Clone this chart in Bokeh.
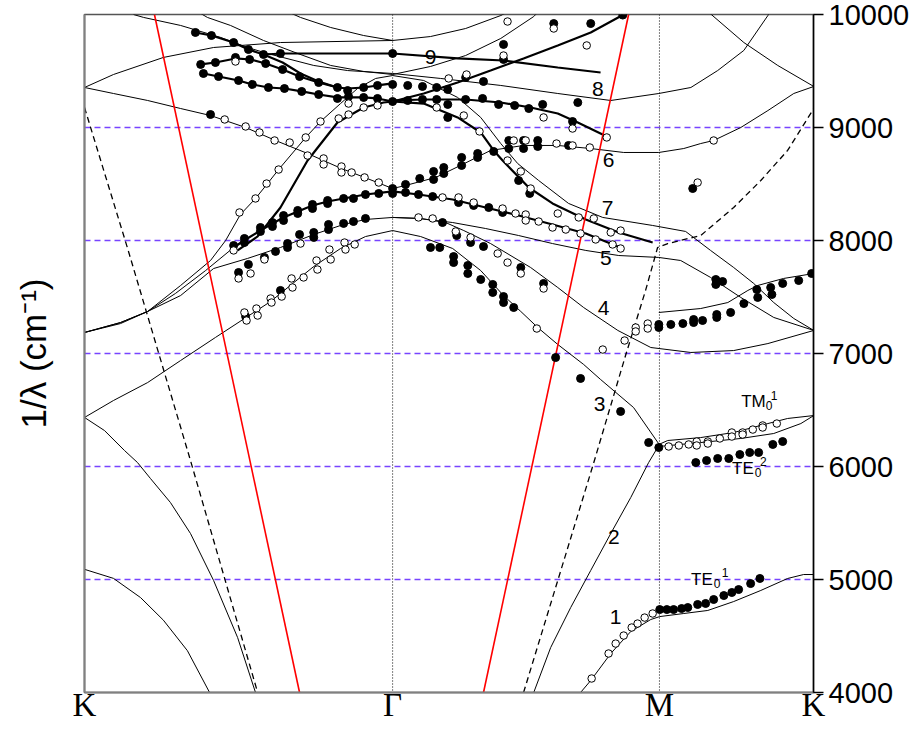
import math
from bokeh.plotting import figure
from bokeh.models import LinearAxis, FixedTicker, Span, Range1d
from bokeh.core.properties import value
from bokeh.embed import file_html
from bokeh.resources import INLINE

# ---------------- k-path (|Gamma K| = 1) ----------------
K_GAMMA = 1.0
GAMMA_M = math.sqrt(3) / 2
M_K = 0.5
sym_pos = [0.0, K_GAMMA, K_GAMMA + GAMMA_M, K_GAMMA + GAMMA_M + M_K]
sym_labels = ["K", "Γ", "M", "K"]

y_ticks = [4000, 5000, 6000, 7000, 8000, 9000, 10000]
guide_levels = [5000, 6000, 7000, 8000, 9000]

# ---------------- calculated bands (thin lines) ----------------
band_a_x = [0, 0.094, 0.182, 0.256, 0.334, 0.406]
band_a_y = [5090, 5010, 4840, 4640, 4370, 4000]

band_b_x = [0, 0.065, 0.130, 0.172, 0.214, 0.279, 0.344, 0.419, 0.497, 0.555]
band_b_y = [6434, 6318, 6141, 6035, 5894, 5681, 5407, 4991, 4486, 4000]

band_c_x = [0, 0.094, 0.205, 0.312, 0.425, 0.529, 0.604, 0.672, 0.744, 0.831, 0.912, 1.0,
            1.091, 1.195, 1.286, 1.360, 1.416, 1.471, 1.536, 1.620, 1.675, 1.782, 1.864]
band_c_y = [6434, 6584, 6743, 6938, 7142, 7327, 7460, 7611, 7770, 7929, 8035, 8088,
            8035, 7929, 7734, 7513, 7372, 7230, 7080, 6903, 6770, 6522, 6200]

band_d_x = [1.0, 1.091, 1.172, 1.231, 1.318, 1.448, 1.536, 1.620, 1.731, 1.838, 1.968, 2.107, 2.218, 2.367]
band_d_y = [8204, 8195, 8159, 8088, 7973, 7761, 7584, 7407, 7204, 7053, 7009, 7026, 7088, 7204]

band_e_x = [1.0, 1.084, 1.195, 1.302, 1.409, 1.519, 1.627, 1.734, 1.864, 1.935, 2.032, 2.130, 2.237, 2.367]
band_e_y = [8204, 8195, 8159, 8106, 8044, 7973, 7912, 7867, 7850, 7823, 7673, 7496, 7319, 7204]

band_f_x = [0, 0.094, 0.205, 0.312, 0.409, 0.523, 0.620, 0.724, 0.834, 0.909, 1.0, 1.042, 1.140,
            1.227, 1.318, 1.425, 1.536, 1.643, 1.750, 1.864, 1.945, 2.0, 2.042, 2.130, 2.218, 2.302, 2.367]
band_f_y = [9354, 9301, 9239, 9168, 9106, 9000, 8885, 8770, 8637, 8558, 8460, 8487, 8558,
            8673, 8797, 8841, 8841, 8814, 8779, 8779, 8814, 8858, 8885, 9000, 9150, 9301, 9363]

band_g_x = [0, 0.094, 0.256, 0.419, 0.636, 1.0, 1.123, 1.237, 1.351, 1.383]
band_g_y = [9354, 9469, 9620, 9708, 9752, 9770, 9805, 9876, 9991, 10036]

band_h_x = [0.636, 0.701, 0.799, 0.906, 1.0]
band_h_y = [10053, 9974, 9885, 9814, 9770]

band_i_x = [0.159, 0.192, 0.312, 0.442, 0.529, 0.594, 0.744, 0.854, 1.0, 1.156, 1.351, 1.536,
            1.708, 1.864, 1.968, 2.055, 2.140, 2.218, 2.227]
band_i_y = [10000, 9974, 9903, 9797, 9708, 9655, 9549, 9504, 9478, 9434, 9372, 9301,
            9239, 9301, 9354, 9504, 9682, 9991, 10036]

band_j_x = [0.377, 0.399, 0.474, 0.581, 0.692, 0.799, 0.906, 1.0, 1.123, 1.237, 1.351, 1.458, 1.471]
band_j_y = [10009, 9974, 9903, 9770, 9655, 9549, 9496, 9469, 9540, 9637, 9788, 9982, 10018]

band_k_x = [0, 0.117, 0.205, 0.312, 0.409, 0.458, 0.506, 0.555, 0.594, 0.630, 0.718, 0.766, 0.831,
            0.886, 0.945, 1.0, 1.101, 1.211, 1.286, 1.351, 1.406, 1.474, 1.571, 1.682, 1.844,
            1.951, 2.032, 2.107, 2.172, 2.237, 2.302, 2.367]
band_k_y = [7186, 7274, 7372, 7602, 7823, 8000, 8230, 8372, 8504, 8628, 8912, 9053, 9212,
            9345, 9434, 9460, 9416, 9266, 9089, 8858, 8681, 8531, 8328, 8204, 8133,
            8080, 7912, 7761, 7620, 7451, 7310, 7204]

band_l_x = [0, 0.117, 0.205, 0.295, 0.393, 0.484]
band_l_y = [7186, 7274, 7372, 7531, 7734, 7938]

band_m_x = [0, 0.117, 0.205, 0.312, 0.419, 0.529, 0.636, 0.744, 0.841, 0.912, 1.0]
band_m_y = [7186, 7265, 7372, 7513, 7752, 7841, 7938, 8053, 8142, 8186, 8204]

band_n_x = [1.864, 2.0, 2.088, 2.153, 2.185, 2.269, 2.367]
band_n_y = [7363, 7398, 7451, 7558, 7602, 7664, 7708]

band_o_x = [2.019, 2.140, 2.250, 2.367]
band_o_y = [10036, 9752, 9549, 9363]

band_p_x = [1.458, 1.513, 1.578, 1.643, 1.708, 1.773, 1.831, 1.864]
band_p_y = [4000, 4398, 4752, 5080, 5407, 5726, 6035, 6186]

band_q_x = [1.610, 1.643, 1.708, 1.773, 1.838, 1.867, 1.945, 2.023, 2.107, 2.195, 2.282, 2.334, 2.367]
band_q_y = [4000, 4106, 4345, 4540, 4646, 4672, 4699, 4726, 4805, 4903, 5009, 5044, 5044]

band_r_x = [1.864, 1.893, 2.0, 2.107, 2.218, 2.282, 2.367]
band_r_y = [6195, 6230, 6256, 6301, 6380, 6425, 6451]

band_s_x = [1.864, 2.0, 2.130, 2.237, 2.325, 2.367]
band_s_y = [6177, 6212, 6248, 6292, 6380, 6451]

# ---------------- fitted bands (thick lines) ----------------
fit_5_x = [0.484, 0.523, 0.571, 0.610, 0.646, 0.692, 0.740, 0.789, 0.841, 0.912, 1.0,
           1.084, 1.195, 1.302, 1.409, 1.519, 1.627, 1.747]
fit_5_y = [7938, 8009, 8088, 8151, 8204, 8257, 8310, 8345, 8372, 8407, 8434,
           8407, 8363, 8292, 8221, 8142, 8062, 7929]

fit_7_x = [0.497, 0.562, 0.636, 0.724, 0.821, 0.906, 0.971, 1.0, 1.101, 1.211, 1.286, 1.328,
           1.357, 1.442, 1.519, 1.627, 1.734, 1.844]
fit_7_y = [7912, 8036, 8292, 8708, 9044, 9177, 9221, 9230, 9212, 9089, 8956, 8797,
           8708, 8469, 8328, 8186, 8071, 7982]

fit_a_x = [0.360, 0.412, 0.484, 0.532, 0.581, 0.643, 0.701, 0.760, 0.821]
fit_a_y = [9841, 9814, 9752, 9690, 9646, 9575, 9478, 9407, 9354]

fit_8_x = [0.377, 0.425, 0.490, 0.539, 0.588, 0.643, 0.698, 0.760, 0.821, 0.854, 0.906, 0.951, 1.0]
fit_8_y = [9558, 9575, 9611, 9602, 9566, 9513, 9451, 9398, 9354, 9345, 9354, 9372, 9390]

fit_b_x = [0.386, 0.435, 0.500, 0.545, 0.597, 0.649, 0.705, 0.760, 0.821, 0.857, 0.906, 0.951,
           1.0, 1.101, 1.211, 1.318, 1.425, 1.536, 1.643, 1.747]
fit_b_y = [9478, 9451, 9416, 9381, 9354, 9345, 9319, 9292, 9266, 9266, 9266, 9257,
           9230, 9301, 9398, 9504, 9611, 9726, 9841, 9995]

fit_6_x = [1.0, 1.101, 1.237, 1.351, 1.448, 1.536, 1.601, 1.695]
fit_6_y = [9239, 9248, 9248, 9221, 9177, 9124, 9044, 8920]

fit_9_x = [0.581, 0.643, 0.766, 1.0, 1.211, 1.360, 1.536, 1.675]
fit_9_y = [9646, 9655, 9655, 9655, 9611, 9593, 9531, 9487]

# ---------------- light lines ----------------
light_l_x = [0, 0.140, 0.344, 0.562]
light_l_y = [9177, 7929, 6053, 4000]
light_r_x = [1.425, 1.653, 1.756, 1.821, 1.860, 1.893, 2.0, 2.107, 2.195, 2.282, 2.367]
light_r_y = [4000, 6035, 6982, 7558, 7938, 7973, 8044, 8292, 8531, 8797, 9168]

red_l_x = [0.227, 0.698]
red_l_y = [10000, 4000]
red_r_x = [1.295, 1.766]
red_r_y = [4000, 10000]

# ---------------- measured points ----------------
filled_gk = [
    (0.360, 9841), (0.412, 9814), (0.484, 9752), (0.532, 9690), (0.581, 9646), (0.636, 9655),
    (0.377, 9558), (0.425, 9575), (0.490, 9620), (0.536, 9602), (0.588, 9566), (0.643, 9513),
    (0.698, 9451), (0.760, 9398), (0.821, 9354), (0.854, 9327), (0.906, 9354), (0.951, 9372), (1.0, 9381),
    (0.386, 9478), (0.435, 9451), (0.500, 9416), (0.545, 9381), (0.597, 9354), (0.649, 9345),
    (0.705, 9319), (0.760, 9292), (0.821, 9257), (0.857, 9274), (0.906, 9266), (0.951, 9257), (1.0, 9230),
    (1.0, 9655), (0.409, 9115), (1.0, 8460), (1.0, 8416),
    (0.484, 7956), (0.519, 8018), (0.519, 7982), (0.571, 8115), (0.571, 8080), (0.610, 8159),
    (0.610, 8124), (0.646, 8221), (0.646, 8177), (0.692, 8266), (0.692, 8239), (0.740, 8319),
    (0.740, 8283), (0.789, 8354), (0.789, 8327), (0.841, 8372), (0.873, 8372), (0.912, 8407), (0.955, 8416),
    (0.500, 7717), (0.532, 7788), (0.584, 7850), (0.620, 7903), (0.659, 7973), (0.659, 7938),
    (0.698, 8053), (0.744, 8071), (0.744, 8027), (0.792, 8142), (0.792, 8097), (0.841, 8151),
    (0.873, 8168), (0.912, 8195),
    (0.523, 7327), (0.636, 7558),
]
filled_gm = [
    (1.042, 8425), (1.084, 8407), (1.130, 8389), (1.214, 8336), (1.263, 8310), (1.312, 8292), (1.357, 8248),
    (1.162, 8159), (1.208, 8044), (1.253, 7982), (1.295, 7947), (1.416, 7761), (1.490, 7620),
    (1.123, 7938), (1.153, 7938), (1.198, 7858), (1.198, 7805), (1.244, 7779), (1.244, 7708),
    (1.286, 7655), (1.325, 7611), (1.325, 7540), (1.360, 7504), (1.360, 7451), (1.393, 7407),
    (1.529, 6964), (1.610, 6779), (1.740, 6487), (1.831, 6212), (1.864, 6168),
    (1.042, 8496), (1.088, 8549), (1.133, 8611), (1.133, 8540), (1.166, 8646), (1.166, 8593),
    (1.224, 8735), (1.224, 8664), (1.276, 8770), (1.276, 8735), (1.328, 8788), (1.377, 8885),
    (1.377, 8814), (1.425, 8885), (1.425, 8814), (1.471, 8885), (1.471, 8832), (1.571, 8841),
    (1.179, 9089), (1.409, 8531), (1.445, 8416),
    (1.049, 9239), (1.097, 9248), (1.143, 9248), (1.179, 9204), (1.237, 9248), (1.292, 9257),
    (1.344, 9204), (1.396, 9195), (1.442, 9168), (1.487, 9204), (1.584, 9053), (1.601, 9221),
    (1.049, 9372), (1.097, 9363), (1.143, 9354), (1.179, 9336),
    (1.237, 9443), (1.295, 9407), (1.360, 9735), (1.360, 9602), (1.523, 9920), (1.643, 9920), (1.747, 9995),
]
filled_mk = [
    (1.864, 7257), (1.864, 7230), (1.903, 7257), (1.942, 7265), (1.977, 7301), (1.977, 7274),
    (2.006, 7292), (2.052, 7345), (2.052, 7319), (2.097, 7363), (2.140, 7442),
    (1.974, 8460),
    (2.049, 7655), (2.049, 7611), (2.071, 7637), (2.182, 7566), (2.185, 7496), (2.227, 7584),
    (2.231, 7522), (2.266, 7620), (2.318, 7646), (2.360, 7708),
    (1.984, 6035), (2.019, 6053), (2.055, 6071), (2.091, 6071), (2.127, 6106), (2.159, 6124),
    (2.188, 6124), (2.234, 6195), (2.266, 6221),
    (1.867, 4734), (1.890, 4734), (1.912, 4734), (1.938, 4743), (1.958, 4752), (1.990, 4779),
    (2.016, 4788), (2.042, 4823), (2.075, 4858), (2.101, 4885), (2.123, 4911), (2.162, 4964), (2.192, 5009),
]
open_gk = [
    (0.490, 9584),
    (0.455, 9071), (0.523, 9009), (0.568, 8956), (0.617, 8885), (0.666, 8867), (0.724, 8752),
    (0.776, 8726), (0.776, 8673), (0.834, 8655), (0.834, 8602), (0.867, 8602), (0.909, 8558), (0.955, 8513),
    (0.503, 8248), (0.555, 8372), (0.591, 8504), (0.630, 8628), (0.718, 8912), (0.766, 9053),
    (0.825, 9080), (0.857, 9115), (0.857, 9212), (0.906, 9177), (0.951, 9195),
    (0.484, 7912),
    (0.500, 7664), (0.539, 7708), (0.584, 7832), (0.701, 7973),
    (0.519, 7363), (0.526, 7292), (0.558, 7398), (0.562, 7336), (0.604, 7487), (0.607, 7451),
    (0.640, 7504), (0.672, 7664), (0.675, 7584), (0.711, 7673), (0.753, 7823), (0.756, 7743),
    (0.795, 7920), (0.799, 7832), (0.844, 7982), (0.847, 7920), (0.877, 7965),
]
open_gm = [
    (1.162, 8381), (1.214, 8381), (1.263, 8336), (1.357, 8283), (1.399, 8239), (1.432, 8230),
    (1.432, 8177), (1.474, 8168), (1.519, 8115), (1.562, 8097), (1.610, 8062), (1.659, 8009),
    (1.714, 7965), (1.740, 7929),
    (1.084, 8204), (1.130, 8195), (1.205, 8080), (1.253, 8027), (1.341, 7885), (1.373, 7805),
    (1.416, 7708), (1.490, 7575),
    (1.468, 7221), (1.682, 7035),
    (1.753, 7115), (1.789, 7230), (1.789, 7195), (1.828, 7265), (1.828, 7221),
    (1.536, 8239), (1.604, 8204), (1.653, 8195), (1.708, 8071), (1.740, 8088),
    (1.393, 8885), (1.432, 8885), (1.532, 8858), (1.584, 8841), (1.640, 8823),
    (1.143, 9177), (1.231, 9106), (1.282, 8965), (1.373, 8708), (1.416, 8611), (1.448, 8460),
    (1.490, 9089), (1.584, 8991), (1.695, 8912),
    (1.240, 9469), (1.182, 9434), (1.360, 9637), (1.373, 9938), (1.523, 9876), (1.630, 9726),
    (1.646, 4124), (1.701, 4345), (1.724, 4433), (1.750, 4504), (1.776, 4575), (1.795, 4610),
    (1.818, 4663), (1.844, 4699),
]
open_mk = [
    (1.990, 8513), (2.042, 8885),
    (1.896, 6177), (1.929, 6186), (1.961, 6195), (1.987, 6221), (1.987, 6186), (2.023, 6221),
    (2.023, 6203), (2.062, 6248), (2.101, 6301), (2.101, 6265), (2.136, 6301), (2.136, 6283),
    (2.169, 6327), (2.201, 6363), (2.201, 6345), (2.247, 6380),
]

# ---------------- labels ----------------
band_label_text = ["1", "2", "3", "4", "5", "6", "7", "8", "9"]
band_label_x = [1.724, 1.718, 1.672, 1.685, 1.692, 1.701, 1.698, 1.666, 1.123]
band_label_y = [4664, 5380, 6549, 7407, 7841, 8708, 8292, 9345, 9620]

mode_text = ["TM", "TE", "TE"]
mode_x = [2.211, 2.172, 2.039]
mode_y = [6575, 5982, 5000]
mode_sub_text = ["0", "0", "0"]
mode_sub_x = [2.211, 2.175, 2.042]
mode_sub_y = [6540, 5947, 4965]
mode_sup_text = ["1", "2", "1"]
mode_sup_x = [2.227, 2.192, 2.068]
mode_sup_y = [6628, 6044, 5062]

# ---------------- figure ----------------
p = figure(width=915, height=729,
           x_range=Range1d(sym_pos[0], sym_pos[-1]), y_range=Range1d(4000, 10000),
           output_backend="svg", toolbar_location=None, y_axis_location="right",
           min_border_left=84, min_border_right=102, min_border_top=14, min_border_bottom=37)
p.grid.visible = False
p.outline_line_color = "#555555"
p.outline_line_width = 1.5
p.background_fill_color = "white"
p.border_fill_color = "white"

# right axis (numbers)
yax = p.yaxis[0]
yax.ticker = FixedTicker(ticks=y_ticks)
yax.major_tick_out = 10
yax.major_tick_in = 0
yax.minor_tick_line_color = None
yax.major_tick_line_width = 1.5
yax.axis_line_width = 1.5
yax.axis_line_color = "black"
yax.major_label_text_font = "Liberation Sans"
yax.major_label_text_font_size = "29px"
yax.major_label_text_color = "black"
yax.major_label_standoff = 5

# left axis (title only)
lax = LinearAxis(ticker=FixedTicker(ticks=[]), axis_label="1/λ (cm⁻¹)",
                 axis_label_text_font="Liberation Sans", axis_label_text_font_size="35px",
                 axis_label_text_font_style="normal", axis_label_text_color="black",
                 axis_label_standoff=32, axis_line_color="#808080", axis_line_width=2,
                 major_tick_line_color=None, minor_tick_line_color=None)
p.add_layout(lax, "left")

# bottom axis (symmetry points)
xax = p.xaxis[0]
xax.ticker = FixedTicker(ticks=sym_pos)
xax.major_label_overrides = {pos: lab for pos, lab in zip(sym_pos, sym_labels)}
xax.major_tick_line_color = None
xax.minor_tick_line_color = None
xax.major_tick_out = 0
xax.major_tick_in = 0
xax.axis_line_color = "#808080"
xax.axis_line_width = 2
xax.major_label_text_font = "Liberation Serif"
xax.major_label_text_font_size = "33px"
xax.major_label_text_color = "black"
xax.major_label_standoff = -6

# guide lines
for lev in guide_levels:
    p.add_layout(Span(location=lev, dimension="width", line_color="#7744ff",
                      line_dash="6 4", line_width=1.4, level="underlay"))
for pos in sym_pos[1:3]:
    p.add_layout(Span(location=pos, dimension="height", line_color="black",
                      line_dash="1 2", line_width=1, level="underlay"))

thin_bands = [(band_a_x, band_a_y), (band_b_x, band_b_y), (band_c_x, band_c_y), (band_d_x, band_d_y),
              (band_e_x, band_e_y), (band_f_x, band_f_y), (band_g_x, band_g_y), (band_h_x, band_h_y),
              (band_i_x, band_i_y), (band_j_x, band_j_y), (band_k_x, band_k_y), (band_l_x, band_l_y),
              (band_m_x, band_m_y), (band_n_x, band_n_y), (band_o_x, band_o_y), (band_p_x, band_p_y),
              (band_q_x, band_q_y), (band_r_x, band_r_y), (band_s_x, band_s_y)]
for bx, by in thin_bands:
    p.line(bx, by, line_color="black", line_width=1)

fits = [(fit_5_x, fit_5_y), (fit_7_x, fit_7_y), (fit_a_x, fit_a_y), (fit_8_x, fit_8_y),
        (fit_b_x, fit_b_y), (fit_6_x, fit_6_y), (fit_9_x, fit_9_y)]
for fx, fy in fits:
    p.line(fx, fy, line_color="black", line_width=2.2)

p.line(light_l_x, light_l_y, line_color="black", line_width=1.3, line_dash="6 4")
p.line(light_r_x, light_r_y, line_color="black", line_width=1.3, line_dash="6 4")
p.line(red_l_x, red_l_y, line_color="red", line_width=1.6)
p.line(red_r_x, red_r_y, line_color="red", line_width=1.6)

for group in (filled_gk, filled_gm, filled_mk):
    p.scatter([q[0] for q in group], [q[1] for q in group], marker="circle", size=8,
              fill_color="black", line_color="black", line_width=1)
for group in (open_gk, open_gm, open_mk):
    p.scatter([q[0] for q in group], [q[1] for q in group], marker="circle", size=7.5,
              fill_color="white", line_color="black", line_width=1)

p.text(band_label_x, band_label_y, text=band_label_text, text_font=value("Liberation Sans"),
       text_font_size=value("21px"), text_align="center", text_baseline="middle", text_color="black")
p.text(mode_x, mode_y, text=mode_text, text_font=value("Liberation Sans"),
       text_font_size=value("17px"), text_align="right", text_baseline="middle", text_color="black")
p.text(mode_sub_x, mode_sub_y, text=mode_sub_text, text_font=value("Liberation Sans"),
       text_font_size=value("12px"), text_align="left", text_baseline="middle", text_color="black")
p.text(mode_sup_x, mode_sup_y, text=mode_sup_text, text_font=value("Liberation Sans"),
       text_font_size=value("12px"), text_align="left", text_baseline="middle", text_color="black")

open("out.html", "w").write(file_html(p, INLINE))
